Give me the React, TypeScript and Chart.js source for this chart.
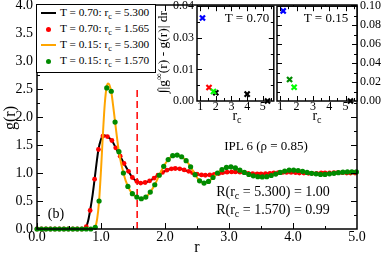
import React, { useEffect, useRef } from 'react';
import { Chart, registerables } from 'chart.js';

Chart.register(...registerables);

const SERIF = "'Liberation Serif', 'Times New Roman', 'DejaVu Serif', serif";

// ---------------- main panel: g(r) ----------------
// T = 0.70, r_c = 5.300 (black line)
const t070LineR = [0.00, 0.70, 0.74, 0.77, 0.80, 0.83, 0.87, 0.90, 0.93, 0.96, 1.00, 1.03, 1.06, 1.10, 1.17, 1.23, 1.30, 1.36, 1.43, 1.49, 1.56, 1.62, 1.69, 1.76, 1.83, 1.89, 1.96, 2.03, 2.10, 2.16, 2.23, 2.30, 2.37, 2.43, 2.50, 2.57, 2.63, 2.70, 2.77, 2.84, 2.90, 2.97, 3.04, 3.10, 3.17, 3.24, 3.30, 3.37, 3.44, 3.50, 3.57, 3.64, 3.70, 3.84, 3.97, 4.10, 4.24, 4.37, 4.50, 4.64, 4.77, 4.90, 5.00];
const t070LineG = [0, 0, 0.005, 0.04, 0.15, 0.33, 0.62, 0.89, 1.17, 1.42, 1.60, 1.665, 1.67, 1.65, 1.58, 1.45, 1.30, 1.17, 1.03, 0.92, 0.85, 0.82, 0.83, 0.86, 0.91, 0.96, 1.01, 1.05, 1.075, 1.08, 1.075, 1.055, 1.03, 1.005, 0.98, 0.965, 0.96, 0.965, 0.975, 0.99, 1.005, 1.015, 1.02, 1.02, 1.015, 1.005, 0.995, 0.99, 0.985, 0.985, 0.99, 0.995, 1.0, 1.01, 1.01, 1.0, 0.995, 0.995, 1.0, 1.005, 1.005, 1.0, 1.0];

// T = 0.70, r_c = 1.565 (red dots)
const t070DotR = [0.00, 0.07, 0.14, 0.21, 0.28, 0.35, 0.42, 0.49, 0.56, 0.63, 0.70, 0.77, 0.83, 0.90, 0.96, 1.03, 1.10, 1.17, 1.23, 1.30, 1.36, 1.43, 1.49, 1.56, 1.62, 1.69, 1.76, 1.83, 1.89, 1.96, 2.03, 2.10, 2.16, 2.23, 2.30, 2.37, 2.43, 2.50, 2.57, 2.63, 2.70, 2.77, 2.84, 2.90, 2.97, 3.04, 3.10, 3.17, 3.24, 3.30, 3.37, 3.44, 3.50, 3.57, 3.64, 3.70, 3.77, 3.84, 3.90, 3.97, 4.04, 4.10, 4.17, 4.24, 4.30, 4.37, 4.44, 4.50, 4.57, 4.64, 4.70, 4.77, 4.84, 4.90, 4.97];
const t070DotG = [0, 0, 0, 0, 0, 0, 0, 0, 0, 0, 0, 0.04, 0.33, 0.89, 1.42, 1.66, 1.65, 1.58, 1.45, 1.30, 1.17, 1.03, 0.92, 0.85, 0.82, 0.83, 0.86, 0.91, 0.96, 1.01, 1.05, 1.075, 1.08, 1.075, 1.055, 1.03, 1.005, 0.98, 0.965, 0.96, 0.965, 0.975, 0.99, 1.005, 1.015, 1.02, 1.02, 1.015, 1.005, 0.995, 0.99, 0.985, 0.985, 0.99, 0.995, 1.0, 1.005, 1.01, 1.01, 1.01, 1.005, 1.0, 1.0, 0.995, 0.995, 0.995, 1.0, 1.0, 1.0, 1.005, 1.005, 1.005, 1.0, 1.0, 1.0];

// T = 0.15, r_c = 5.300 (orange line)
const t015LineR = [0.00, 0.86, 0.89, 0.91, 0.94, 0.97, 1.00, 1.03, 1.06, 1.09, 1.11, 1.13, 1.16, 1.19, 1.22, 1.25, 1.28, 1.35, 1.42, 1.49, 1.56, 1.63, 1.70, 1.77, 1.84, 1.91, 1.98, 2.05, 2.12, 2.19, 2.26, 2.33, 2.40, 2.47, 2.54, 2.61, 2.68, 2.75, 2.82, 2.89, 2.96, 3.03, 3.10, 3.17, 3.24, 3.31, 3.38, 3.45, 3.52, 3.59, 3.66, 3.73, 3.80, 3.87, 3.94, 4.01, 4.08, 4.15, 4.22, 4.29, 4.36, 4.43, 4.50, 4.57, 4.64, 4.71, 4.78, 4.85, 4.92, 5.00];
const t015LineG = [0, 0, 0.005, 0.03, 0.18, 0.50, 1.05, 1.70, 2.25, 2.55, 2.60, 2.58, 2.45, 2.20, 1.91, 1.63, 1.38, 1.00, 0.76, 0.63, 0.57, 0.54, 0.57, 0.66, 0.79, 0.96, 1.12, 1.24, 1.31, 1.32, 1.29, 1.22, 1.11, 0.97, 0.86, 0.82, 0.85, 0.92, 1.00, 1.06, 1.10, 1.11, 1.09, 1.05, 1.01, 0.975, 0.95, 0.935, 0.93, 0.935, 0.955, 0.98, 1.01, 1.035, 1.05, 1.05, 1.045, 1.03, 1.01, 0.995, 0.985, 0.975, 0.975, 0.985, 0.995, 1.005, 1.015, 1.02, 1.02, 1.02];

// T = 0.15, r_c = 1.570 (green dots)
const t015DotR = [0.00, 0.07, 0.14, 0.21, 0.28, 0.35, 0.42, 0.49, 0.56, 0.63, 0.70, 0.77, 0.84, 0.91, 0.97, 1.09, 1.16, 1.22, 1.28, 1.35, 1.42, 1.49, 1.56, 1.63, 1.70, 1.77, 1.84, 1.91, 1.98, 2.05, 2.12, 2.19, 2.26, 2.33, 2.40, 2.47, 2.54, 2.61, 2.68, 2.75, 2.82, 2.89, 2.96, 3.03, 3.10, 3.17, 3.24, 3.31, 3.38, 3.45, 3.52, 3.59, 3.66, 3.73, 3.80, 3.87, 3.94, 4.01, 4.08, 4.15, 4.22, 4.29, 4.36, 4.43, 4.50, 4.57, 4.64, 4.71, 4.78, 4.85, 4.92, 4.99];
const t015DotG = [0, 0, 0, 0, 0, 0, 0, 0, 0, 0, 0, 0, 0, 0.03, 0.50, 2.52, 2.46, 1.91, 1.38, 1.00, 0.76, 0.63, 0.57, 0.54, 0.57, 0.66, 0.79, 0.96, 1.12, 1.24, 1.31, 1.32, 1.29, 1.22, 1.11, 0.97, 0.86, 0.82, 0.85, 0.92, 1.00, 1.06, 1.10, 1.11, 1.09, 1.05, 1.01, 0.975, 0.95, 0.935, 0.93, 0.935, 0.955, 0.98, 1.01, 1.035, 1.05, 1.05, 1.045, 1.03, 1.01, 0.995, 0.985, 0.975, 0.975, 0.985, 0.995, 1.005, 1.015, 1.02, 1.02, 1.02];

// cut-off marker r_c = 1.565
const cutoffR = [1.565, 1.565];
const cutoffG = [0, 2.5];

const mainXMajor = [0, 1, 2, 3, 4, 5];
const mainXMinor = [0.5, 1.5, 2.5, 3.5, 4.5];
const mainXLabels = ['0.0', '1.0', '2.0', '3.0', '4.0', '5.0'];
const mainYMajor = [0, 0.5, 1, 1.5, 2, 2.5, 3, 3.5, 4];
const mainYMinor = [0.25, 0.75, 1.25, 1.75, 2.25, 2.75, 3.25, 3.75];
const mainYLabels = ['0.0', '0.5', '1.0', '1.5', '2.0', '2.5', '3.0', '3.5', '4.0'];

// ---------------- insets: integral vs r_c ----------------
const t070BlueRc = [1.15];
const t070BlueI = [0.035];
const t070RedRc = [1.565];
const t070RedI = [0.0057];
const t070LimeRc = [1.85];
const t070LimeI = [0.004];
const t070BlackRc = [2.0, 4.0, 5.3];
const t070BlackI = [0.0035, 0.0029, 0.0];

const t015BlueRc = [1.18];
const t015BlueI = [0.095];
const t015GreenRc = [1.57];
const t015GreenI = [0.0227];
const t015LimeRc = [1.85];
const t015LimeI = [0.0145];
const t015BlackRc = [5.3];
const t015BlackI = [0.0];

const insetXMajor = [1, 2, 3, 4, 5];
const insetXMinor = [1.5, 2.5, 3.5, 4.5, 5.5];
const insetXLabels = ['1', '2', '3', '4', '5'];
const inset070YMajor = [0, 0.013333, 0.026667, 0.04];
const inset070YMinor = [0.006667, 0.02, 0.033333];
const inset070YLabels = ['0.00', '0.01', '0.03', '0.04'];
const inset015YMajor = [0, 0.02, 0.04, 0.06, 0.08, 0.1];
const inset015YMinor = [0.01, 0.03, 0.05, 0.07, 0.09];
const inset015YLabels = ['0.00', '0.02', '0.04', '0.06', '0.08', '0.10'];

const pts = (xs: number[], ys: number[]) => xs.map((x, i) => ({ x, y: ys[i] }));

function framePlugin(cfg: any) {
  return {
    id: 'frameTicks',
    beforeDraw(chart: any) {
      if (!cfg.fill) return;
      const { ctx, chartArea: a } = chart;
      ctx.save();
      ctx.fillStyle = '#fff';
      ctx.fillRect(a.left, a.top, a.right - a.left, a.bottom - a.top);
      ctx.restore();
    },
    afterDraw(chart: any) {
      const { ctx, chartArea: a } = chart;
      const xs = chart.scales.x;
      const ys = chart.scales.y;
      ctx.save();
      ctx.strokeStyle = '#000';
      ctx.lineWidth = 1;
      ctx.beginPath();
      const vx = (v: number, len: number) => {
        const p = Math.round(xs.getPixelForValue(v)) + 0.5;
        if (p < a.left || p > a.right) return;
        ctx.moveTo(p, a.bottom);
        ctx.lineTo(p, a.bottom - len);
        ctx.moveTo(p, a.top);
        ctx.lineTo(p, a.top + len);
      };
      const vy = (v: number, len: number) => {
        const p = Math.round(ys.getPixelForValue(v)) + 0.5;
        if (p < a.top || p > a.bottom) return;
        ctx.moveTo(a.left, p);
        ctx.lineTo(a.left + len, p);
        ctx.moveTo(a.right, p);
        ctx.lineTo(a.right - len, p);
      };
      cfg.xMajor.forEach((v: number) => vx(v, cfg.major));
      cfg.xMinor.forEach((v: number) => vx(v, cfg.minor));
      cfg.yMajor.forEach((v: number) => vy(v, cfg.major));
      cfg.yMinor.forEach((v: number) => vy(v, cfg.minor));
      ctx.stroke();
      ctx.lineWidth = cfg.lw;
      ctx.strokeRect(a.left, a.top, a.right - a.left, a.bottom - a.top);
      ctx.restore();
    },
  };
}

const dotSet = (data: any, color: string, radius: number, order: number) => ({
  data,
  showLine: false,
  pointRadius: radius,
  pointBackgroundColor: color,
  pointBorderColor: color,
  pointBorderWidth: 0,
  order,
  clip: false,
});

const crossSet = (data: any, color: string, order: number) => ({
  data,
  showLine: false,
  pointStyle: 'crossRot',
  pointRadius: 3.6,
  pointBorderWidth: 2.2,
  pointBorderColor: color,
  pointBackgroundColor: color,
  order,
  clip: false,
});

const noGrid = { display: false, drawTicks: false, tickLength: 0 };

function insetScales(xLabels: string[], yMajor: number[], yLabels: string[], yMax: number, yPos: string, yWidth: number) {
  return {
    x: {
      type: 'linear',
      min: 0.8,
      max: 5.7,
      grid: noGrid,
      border: { display: false },
      afterBuildTicks: (s: any) => { s.ticks = insetXMajor.map((v) => ({ value: v })); },
      ticks: { autoSkip: false, maxRotation: 0, padding: 0, color: '#000', font: { family: SERIF, size: 12, lineHeight: 1 }, callback: (_v: any, i: number) => xLabels[i] },
      afterFit: (s: any) => { s.height = 29; s.paddingLeft = 0; s.paddingRight = 0; },
    },
    y: {
      type: 'linear',
      position: yPos,
      min: 0,
      max: yMax,
      grid: noGrid,
      border: { display: false },
      afterBuildTicks: (s: any) => { s.ticks = yMajor.map((v) => ({ value: v })); },
      ticks: { autoSkip: false, padding: 3, color: '#000', font: { family: SERIF, size: 12 }, callback: (_v: any, i: number) => yLabels[i] },
      afterFit: (s: any) => { s.width = yWidth; s.paddingTop = 0; s.paddingBottom = 0; },
    },
  };
}

const Sub = ({ children }: any) => (
  <span style={{ fontSize: '0.72em', position: 'relative', top: '0.32em' }}>{children}</span>
);

const Txt = ({ x, y, size, children, align }: any) => (
  <div
    style={{
      position: 'absolute',
      left: x,
      top: y,
      transform: `translate(${align === 'left' ? '0' : '-50%'},-50%)`,
      fontSize: size,
      fontFamily: SERIF,
      whiteSpace: 'nowrap',
      lineHeight: 1,
      color: '#000',
    }}
  >
    {children}
  </div>
);

// vertical text: fixed box centred at (cx, cy), rotated about its centre
const RotTxt = ({ cx, cy, w, h, size, children }: any) => (
  <div
    style={{
      position: 'absolute',
      left: cx - w / 2,
      top: cy - h / 2,
      width: w,
      height: h,
      lineHeight: `${h}px`,
      textAlign: 'center',
      fontSize: size,
      fontFamily: SERIF,
      whiteSpace: 'nowrap',
      transform: 'rotate(-90deg)',
      transformOrigin: '50% 50%',
      color: '#000',
    }}
  >
    {children}
  </div>
);

export default function App() {
  const mainRef = useRef<HTMLCanvasElement>(null);
  const leftRef = useRef<HTMLCanvasElement>(null);
  const rightRef = useRef<HTMLCanvasElement>(null);

  useEffect(() => {
    Chart.defaults.color = '#000';
    const common = {
      responsive: false,
      animation: false,
      devicePixelRatio: 1,
      events: [],
    };

    const main = new Chart(mainRef.current as any, {
      type: 'line',
      data: {
        datasets: [
          { data: pts(cutoffR, cutoffG), borderColor: '#ff0000', borderWidth: 1.5, borderDash: [7, 4], pointRadius: 0, order: 5 },
          { data: pts(t070LineR, t070LineG), borderColor: '#000000', borderWidth: 2, pointRadius: 0, cubicInterpolationMode: 'monotone', order: 4 },
          dotSet(pts(t070DotR, t070DotG), '#ff0000', 2.4, 3),
          { data: pts(t015LineR, t015LineG), borderColor: '#ffa500', borderWidth: 2, pointRadius: 0, cubicInterpolationMode: 'monotone', order: 2 },
          dotSet(pts(t015DotR, t015DotG), '#008b00', 2.6, 1),
        ],
      } as any,
      options: {
        ...common,
        layout: { padding: { left: 0, top: 5, right: 25, bottom: 0 } },
        plugins: { legend: { display: false }, tooltip: { enabled: false } },
        scales: {
          x: {
            type: 'linear',
            min: 0,
            max: 5,
            grid: noGrid,
            border: { display: false },
            afterBuildTicks: (s: any) => { s.ticks = mainXMajor.map((v) => ({ value: v })); },
            ticks: { autoSkip: false, maxRotation: 0, padding: 1, color: '#000', font: { family: SERIF, size: 14, lineHeight: 1 }, callback: (_v: any, i: number) => mainXLabels[i] },
            afterFit: (s: any) => { s.height = 24; s.paddingLeft = 0; s.paddingRight = 0; },
          },
          y: {
            type: 'linear',
            min: 0,
            max: 4,
            grid: noGrid,
            border: { display: false },
            afterBuildTicks: (s: any) => { s.ticks = mainYMajor.map((v) => ({ value: v })); },
            ticks: { autoSkip: false, padding: 4, color: '#000', font: { family: SERIF, size: 14 }, callback: (_v: any, i: number) => mainYLabels[i] },
            afterFit: (s: any) => { s.width = 37; s.paddingTop = 0; s.paddingBottom = 0; },
          },
        },
      } as any,
      plugins: [framePlugin({ xMajor: mainXMajor, xMinor: mainXMinor, yMajor: mainYMajor, yMinor: mainYMinor, major: 6, minor: 3, lw: 1.5 })],
    });

    const left = new Chart(leftRef.current as any, {
      type: 'line',
      data: {
        datasets: [
          crossSet(pts(t070BlackRc, t070BlackI), '#000000', 3),
          crossSet(pts(t070BlueRc, t070BlueI), '#0000ff', 2),
          crossSet(pts(t070RedRc, t070RedI), '#ff0000', 1),
          crossSet(pts(t070LimeRc, t070LimeI), '#00ff00', 0),
        ],
      } as any,
      options: {
        ...common,
        layout: { padding: { left: 0, top: 4, right: 4, bottom: 0 } },
        plugins: { legend: { display: false }, tooltip: { enabled: false } },
        scales: insetScales(insetXLabels, inset070YMajor, inset070YLabels, 0.04, 'left', 47),
      } as any,
      plugins: [framePlugin({ fill: true, xMajor: insetXMajor, xMinor: insetXMinor, yMajor: inset070YMajor, yMinor: inset070YMinor, major: 5, minor: 3, lw: 1.5 })],
    });

    const right = new Chart(rightRef.current as any, {
      type: 'line',
      data: {
        datasets: [
          crossSet(pts(t015BlackRc, t015BlackI), '#000000', 3),
          crossSet(pts(t015BlueRc, t015BlueI), '#0000ff', 2),
          crossSet(pts(t015GreenRc, t015GreenI), '#008b00', 1),
          crossSet(pts(t015LimeRc, t015LimeI), '#00ff00', 0),
        ],
      } as any,
      options: {
        ...common,
        layout: { padding: { left: 7, top: 4, right: 0, bottom: 0 } },
        plugins: { legend: { display: false }, tooltip: { enabled: false } },
        scales: insetScales(insetXLabels, inset015YMajor, inset015YLabels, 0.1, 'right', 25),
      } as any,
      plugins: [framePlugin({ fill: true, xMajor: insetXMajor, xMinor: insetXMinor, yMajor: inset015YMajor, yMinor: inset015YMinor, major: 5, minor: 3, lw: 1.5 })],
    });

    return () => {
      main.destroy();
      left.destroy();
      right.destroy();
    };
  }, []);

  const rowY = [13, 29, 45, 61];
  const legendLine = (y: number, color: string) => (
    <div style={{ position: 'absolute', left: 41, top: y - 1, width: 15, height: 2, background: color }} />
  );
  const legendDot = (y: number, color: string) => (
    <div style={{ position: 'absolute', left: 46, top: y - 2.5, width: 5, height: 5, borderRadius: '50%', background: color }} />
  );

  return (
    <div style={{ position: 'absolute', left: 0, top: 0, width: 382, height: 253, background: '#fff', overflow: 'hidden' }}>
      <canvas ref={mainRef} width={382} height={253} style={{ position: 'absolute', left: 0, top: 0 }} />

      {/* legend */}
      <div style={{ position: 'absolute', left: 36, top: 4, width: 120, height: 69, border: '1.5px solid #000', boxSizing: 'border-box', background: '#fff' }} />
      {legendLine(rowY[0], '#000000')}
      {legendDot(rowY[1], '#ff0000')}
      {legendLine(rowY[2], '#ffa500')}
      {legendDot(rowY[3], '#008b00')}
      <Txt x={60} y={rowY[0]} size={11.3} align="left">T = 0.70: r<Sub>c</Sub> = 5.300</Txt>
      <Txt x={60} y={rowY[1]} size={11.3} align="left">T = 0.70: r<Sub>c</Sub> = 1.565</Txt>
      <Txt x={60} y={rowY[2]} size={11.3} align="left">T = 0.15: r<Sub>c</Sub> = 5.300</Txt>
      <Txt x={60} y={rowY[3]} size={11.3} align="left">T = 0.15: r<Sub>c</Sub> = 1.570</Txt>

      <canvas ref={leftRef} width={130} height={130} style={{ position: 'absolute', left: 150, top: 0 }} />
      <canvas ref={rightRef} width={112} height={130} style={{ position: 'absolute', left: 270, top: 0 }} />

      {/* inset texts */}
      <RotTxt cx={163} cy={52} w={104} h={16} size={13.5}>
        ∫|g<span style={{ fontSize: '0.7em', position: 'relative', top: '-0.5em' }}>∞</span>(r) - g(r)| dr
      </RotTxt>
      <Txt x={247} y={17} size={13}>T = 0.70</Txt>
      <Txt x={326} y={17} size={13}>T = 0.15</Txt>
      <Txt x={237} y={116} size={14}>r<Sub>c</Sub></Txt>
      <Txt x={317} y={116} size={14}>r<Sub>c</Sub></Txt>

      {/* main texts */}
      <RotTxt cx={10} cy={118} w={40} h={18} size={16}>g(r)</RotTxt>
      <Txt x={197} y={247} size={16}>r</Txt>
      <Txt x={266} y={145} size={13}>IPL 6 (ρ = 0.85)</Txt>
      <Txt x={273} y={192} size={14}>R(r<Sub>c</Sub> = 5.300) = 1.00</Txt>
      <Txt x={273} y={210} size={14}>R(r<Sub>c</Sub> = 1.570) = 0.99</Txt>
      <Txt x={56} y={214} size={14}>(b)</Txt>
    </div>
  );
}
